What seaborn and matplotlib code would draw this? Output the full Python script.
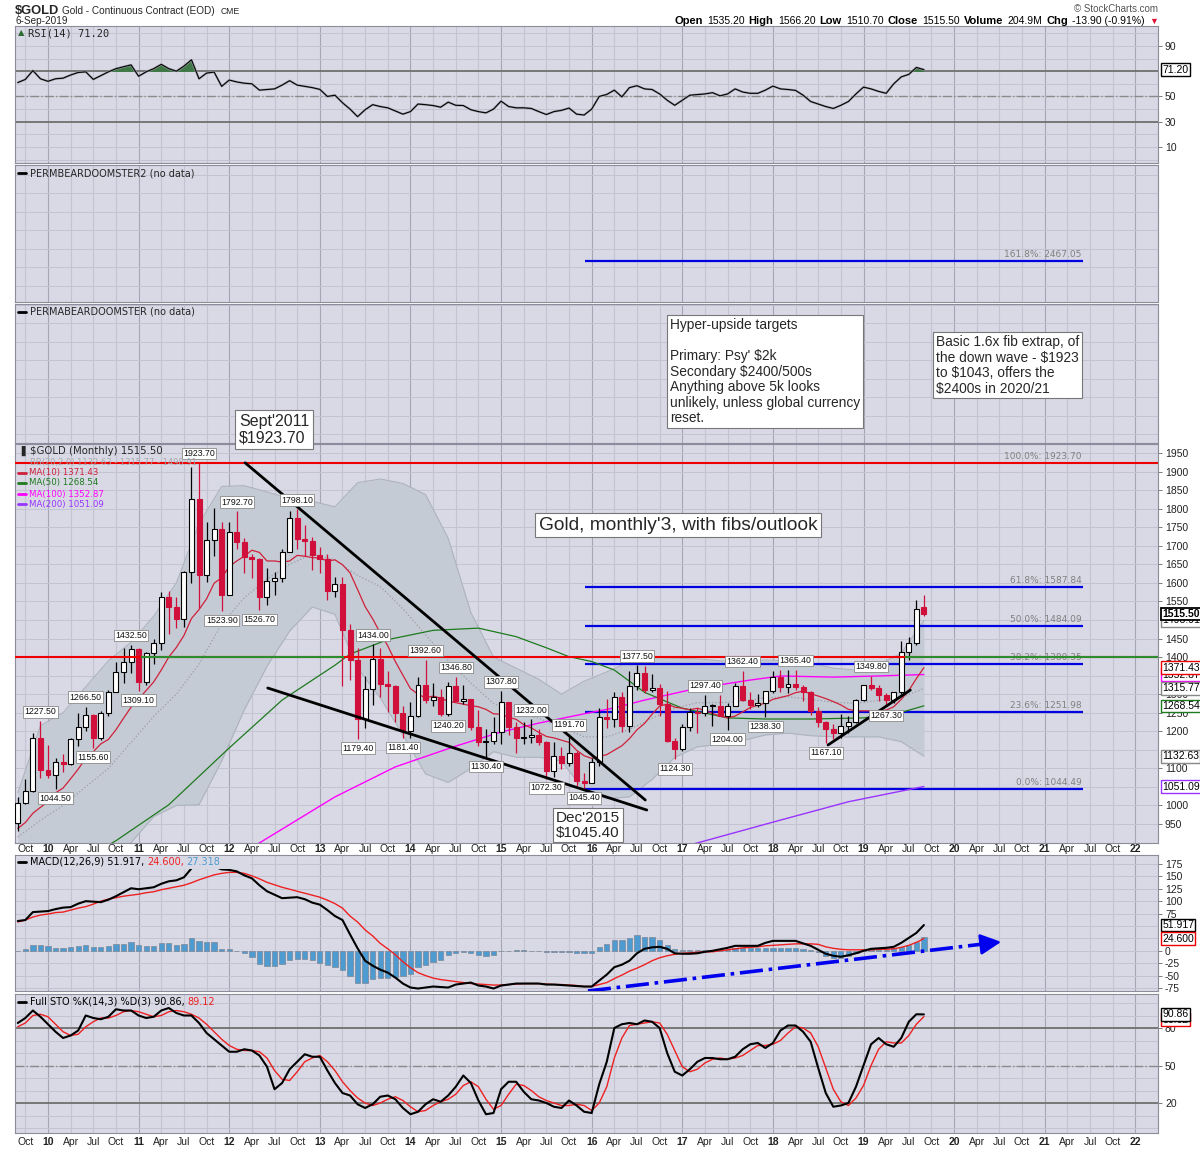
import matplotlib
matplotlib.use("Agg")
import matplotlib.pyplot as plt
from matplotlib.patches import Rectangle
import seaborn as sns
import numpy as np

sns.set_theme(style="white")
plt.rcParams['font.family'] = ['Liberation Sans', 'DejaVu Sans']
plt.rcParams['axes.unicode_minus'] = False

# ---------------- DATA (monthly, index 0 = Sep 2009 ... 120 = Sep 2019) ----------------
opens = [953, 1007, 1040, 1181, 1096, 1081, 1118, 1113, 1180, 1212,
         1245, 1181, 1248, 1307, 1359, 1386, 1421, 1333, 1410, 1439,
         1563, 1536, 1502, 1628, 1825, 1620, 1716, 1746, 1566, 1737,
         1711, 1669, 1664, 1561, 1604, 1614, 1684, 1776, 1719, 1713,
         1675, 1663, 1578, 1596, 1472, 1393, 1234, 1313, 1396, 1327,
         1323, 1250, 1202, 1240, 1326, 1284, 1291, 1246, 1322, 1282,
         1286, 1211, 1171, 1175, 1199, 1278, 1212, 1183, 1184, 1189,
         1172, 1094, 1133, 1114, 1142, 1065, 1061, 1116, 1238, 1234,
         1293, 1214, 1322, 1357, 1311, 1317, 1273, 1173, 1152, 1212,
         1252, 1249, 1268, 1269, 1242, 1269, 1322, 1284, 1271, 1276,
         1309, 1345, 1318, 1327, 1318, 1305, 1254, 1224, 1206, 1196,
         1215, 1226, 1283, 1325, 1316, 1298, 1285, 1306, 1413, 1437,
         1535.2]
highs = [1024, 1070, 1195, 1227.5, 1162, 1128, 1140, 1183, 1249, 1266.5,
         1246, 1254, 1310, 1388, 1424, 1432.5, 1424, 1413, 1448, 1575,
         1577, 1561, 1633, 1911, 1923.7, 1764, 1803, 1764, 1764, 1792.7,
         1720, 1678, 1667, 1640, 1628, 1692, 1795, 1798.1, 1755, 1724,
         1698, 1679, 1617, 1617, 1488, 1424, 1348, 1434, 1425, 1362,
         1325, 1267, 1280, 1345, 1392.6, 1331, 1315, 1332, 1346.8, 1325,
         1288, 1256, 1207, 1239, 1307.8, 1280, 1224, 1224, 1232, 1205,
         1175, 1170, 1157, 1191.7, 1147, 1088, 1128, 1263, 1287, 1306,
         1305, 1362, 1377.5, 1375, 1353, 1327, 1308, 1181, 1220, 1264,
         1263, 1297.4, 1274, 1297, 1276, 1331, 1362.4, 1306, 1300, 1309,
         1362, 1364, 1365, 1365.4, 1326, 1309, 1266, 1228, 1220, 1247,
         1241, 1287, 1326, 1349.8, 1325, 1302, 1307, 1442, 1453, 1555,
         1566.2]
lows = [931, 1003, 1035, 1075, 1073, 1044.5, 1089, 1110, 1160, 1201,
        1155.6, 1176, 1242, 1307, 1329, 1357, 1309.1, 1324, 1382, 1418,
        1462, 1478, 1480, 1600, 1532, 1603, 1672, 1523.9, 1566, 1690,
        1627, 1613, 1526.7, 1540, 1566, 1601, 1684, 1692, 1672, 1635,
        1627, 1555, 1562, 1321, 1339, 1179.4, 1208, 1271, 1292, 1251,
        1226, 1181.4, 1182, 1238, 1277, 1268, 1241, 1240.2, 1281, 1274,
        1204, 1161, 1130.4, 1167, 1167, 1191, 1142, 1167, 1169, 1162,
        1072.3, 1077, 1098, 1107, 1052, 1045.4, 1061, 1107, 1208, 1212,
        1199, 1199, 1310, 1304, 1305, 1241, 1171, 1124.3, 1146, 1202,
        1195, 1242, 1214, 1241, 1204, 1267, 1281, 1260, 1265, 1238.3,
        1302, 1307, 1303, 1311, 1282, 1245, 1211, 1167.1, 1180, 1183,
        1196, 1223, 1281, 1312, 1282, 1267.3, 1276, 1301, 1392, 1433,
        1510.7]
closes = [1007, 1040, 1181, 1096, 1081, 1118, 1113, 1180, 1212, 1245,
          1181, 1248, 1307, 1359, 1386, 1421, 1333, 1410, 1439, 1563,
          1536, 1502, 1628, 1825, 1620, 1716, 1746, 1566, 1737, 1711,
          1669, 1664, 1561, 1604, 1614, 1684, 1776, 1719, 1713, 1675,
          1663, 1578, 1596, 1472, 1393, 1234, 1313, 1396, 1327, 1323,
          1250, 1202, 1240, 1326, 1284, 1291, 1246, 1322, 1282, 1286,
          1211, 1171, 1175, 1199, 1278, 1212, 1183, 1184, 1189, 1172,
          1094, 1133, 1114, 1142, 1065, 1061, 1116, 1238, 1234, 1293,
          1214, 1322, 1357, 1311, 1317, 1273, 1173, 1152, 1212, 1252,
          1249, 1268, 1269, 1242, 1269, 1322, 1284, 1271, 1276, 1309,
          1345, 1318, 1327, 1318, 1305, 1254, 1224, 1206, 1196, 1215,
          1226, 1283, 1325, 1316, 1298, 1285, 1306, 1413, 1437, 1529,
          1515.5]

ma10 = [938, 954, 979, 995, 1010, 1034, 1047, 1072, 1098, 1127,
        1145, 1166, 1178, 1204, 1235, 1265, 1287, 1310, 1333, 1365,
        1400, 1426, 1458, 1504, 1528, 1557, 1599, 1614, 1644, 1659,
        1672, 1688, 1682, 1659, 1659, 1656, 1659, 1674, 1672, 1668,
        1667, 1659, 1662, 1649, 1627, 1582, 1536, 1503, 1465, 1430,
        1388, 1351, 1315, 1300, 1290, 1295, 1289, 1281, 1277, 1273,
        1269, 1266, 1259, 1247, 1246, 1238, 1232, 1218, 1209, 1197,
        1186, 1182, 1176, 1170, 1149, 1134, 1127, 1132, 1137, 1149,
        1161, 1180, 1204, 1221, 1246, 1268, 1273, 1265, 1262, 1258,
        1262, 1256, 1248, 1241, 1236, 1241, 1252, 1264, 1270, 1276,
        1286, 1291, 1296, 1304, 1308, 1301, 1295, 1288, 1280, 1271,
        1259, 1255, 1255, 1255, 1254, 1257, 1266, 1286, 1310, 1342,
        1371.43]
ma50_idx = [10, 13, 20, 28, 35, 42, 44, 49, 55, 61, 66, 70, 73, 76, 79, 83, 88, 94, 99, 105, 112, 116, 120]
ma50_val = [870, 905, 1002, 1155, 1284, 1378, 1408, 1447, 1472, 1478, 1455, 1425, 1401, 1388, 1365,
            1305, 1262, 1236, 1233, 1233, 1236, 1245, 1268.54]
ma100_idx = [30, 32, 42, 50, 58, 64, 69, 75, 79, 83, 90, 97, 101, 108, 114, 120]
ma100_val = [870, 899, 1023, 1104, 1160, 1198, 1222, 1247, 1263, 1284, 1316, 1338, 1349, 1346, 1349, 1352.87]
ma200_idx = [85, 90, 100, 110, 120]
ma200_val = [875, 899, 955, 1010, 1051.09]

bb_idx = [0, 3, 6, 9, 12, 15, 18, 21, 24, 27, 30, 33, 36, 39, 42, 45, 48, 51, 54, 57, 60,
          63, 66, 69, 72, 75, 78, 81, 84, 87, 90, 93, 96, 99, 102, 105, 108, 111, 114, 117, 120]
bb_upper = [1034, 1215, 1250, 1320, 1390, 1440, 1510, 1600, 1760, 1860, 1862, 1845, 1828, 1820, 1805,
            1870, 1880, 1868, 1838, 1720, 1520, 1400, 1370, 1340, 1300, 1335, 1360, 1387, 1398, 1397,
            1395, 1390, 1387, 1392, 1390, 1384, 1370, 1365, 1380, 1410, 1498.91]
bb_mid = [915, 960, 1000, 1050, 1100, 1170, 1240, 1300, 1381, 1490, 1560, 1610, 1650, 1678, 1662,
          1620, 1590, 1530, 1460, 1390, 1330, 1275, 1250, 1235, 1210, 1185, 1185, 1205, 1235, 1262,
          1277, 1277, 1281, 1290, 1293, 1286, 1278, 1275, 1283, 1290, 1315.77]
bb_lower = [796, 705, 750, 780, 810, 900, 970, 1000, 1002, 1120, 1258, 1375, 1470, 1535, 1515,
            1370, 1290, 1190, 1085, 1062, 1100, 1145, 1130, 1130, 1120, 1040, 1018, 1023, 1070, 1130,
            1158, 1165, 1175, 1190, 1195, 1188, 1185, 1185, 1185, 1172, 1132.63]

rsi = [61, 63.5, 70.5, 64, 62, 64, 64.5, 67, 69, 69.5,
       63.5, 66.5, 69.5, 72, 73.5, 75, 66, 69.5, 72, 75.4,
       72, 70, 74, 79, 64, 68.5, 69.3, 58, 63, 61.5,
       60.5, 60, 55, 55.5, 56, 59, 62.5, 59, 58, 57,
       55.6, 50, 51, 45, 40, 34, 39.5, 43.5, 42, 41,
       38.5, 36, 38, 44, 43.5, 42.8, 41.5, 45.5, 43, 42.8,
       39.5, 38, 37, 40, 46.3, 42, 41, 41, 40.5, 38,
       35.7, 38, 39, 40.8, 36, 35.3, 40, 50, 51.6, 55,
       49.7, 57, 58.5, 56, 55.5, 52, 47, 43, 47, 51,
       51.5, 52, 53, 50.5, 52, 56, 53.5, 52.5, 52.5, 55,
       58.2, 56, 55.5, 54.8, 51, 46, 44, 42, 40.5, 43,
       46, 52, 57.4, 56, 54, 52.5, 60, 65.5, 67.5, 73,
       71.2]
macd_line = [60, 62, 78, 79, 80, 84, 87, 88, 95, 100,
             99, 98, 103, 110, 118, 126, 124, 126, 128, 135,
             140, 142, 148, 166, 180, 178, 170, 164, 163, 160,
             152, 146, 132, 120, 113, 106, 107, 108, 104, 97,
             93, 82, 70, 62, 33, 5, -20, -30, -38, -44,
             -54, -66, -74, -76, -74, -72, -73, -74, -68, -66,
             -64, -70, -72, -76, -70, -68, -66, -66, -66, -66,
             -68, -68, -69, -70, -71, -72, -72, -60, -48, -33,
             -28, -20, -5, 4, 7, 8, 4, -5, -6, -6,
             -5, -2, 0, 3, 6, 10, 10, 10, 10, 16,
             20, 20, 20, 20, 15, 10, 2, -6, -10, -12,
             -9, -5, 0, 4, 5, 6, 8, 16, 26, 36,
             51.917]
macd_signal = [58, 62, 68, 72, 74, 77, 78, 82, 86, 89,
               94, 100, 104, 107, 110, 112, 114, 117, 119, 123,
               126, 129, 132, 137, 143, 148, 153, 156, 158, 158,
               156, 151, 145, 138, 133, 128, 124, 120, 116, 112,
               108, 102, 95, 86, 70, 58, 42, 30, 15, 4,
               -8, -22, -34, -44, -50, -55, -58, -60, -62, -64,
               -66, -67, -68, -69, -69, -68, -67, -66, -66, -66,
               -67, -68, -68, -69, -70, -72, -72, -68, -64, -56,
               -49, -41, -35, -28, -20, -14, -10, -7, -5, -4,
               -3, -2, -2, 0, 2, 4, 6, 7, 8, 10,
               11, 12, 13, 14, 14, 14, 13, 8, 5, 3,
               2, 2, 2, 2, 3, 3, 4, 7, 11, 17,
               24.6]
macd_hist = [0, 3, 12, 12, 10, 6, 6, 8, 10, 12,
             8, 8, 10, 14, 14, 18, 12, 10, 10, 16,
             16, 12, 14, 26, 20, 18, 18, 3, 3, 0,
             -5, -13, -27, -31, -31, -27, -19, -17, -17, -19,
             -24, -29, -32, -39, -51, -64, -64, -57, -55, -54,
             -52, -51, -47, -33, -29, -22, -19, -9, -5, -2,
             -5, -9, -11, -9, 0, 0, 1, 1, 0, -1,
             -3, -3, -2, -3, -4, -5, -4, 8, 13, 21,
             21, 26, 31, 28, 27, 21, 11, 3, 2, 2,
             2, 2, 2, 2, 2, 5, 6, 6, 6, 6,
             6, 6, 6, 6, 4, 1, -2, -11, -15, -15,
             -11, -5, 1, 1, 1, 1, 5, 8, 11, 18,
             27.318]
sto_k = [84, 88, 94, 89, 83, 77, 72, 74, 78, 90,
         88, 87, 89, 95, 94, 94, 90, 88, 89, 94,
         96, 92, 90, 90, 84, 76, 71, 66, 61, 61,
         63, 62, 58, 49, 31, 36, 47, 53, 59, 57,
         57, 46, 36, 28, 26, 19, 16, 19, 25, 26,
         23, 16, 11, 13, 19, 23, 21, 26, 33, 42,
         36, 22, 11, 12, 31, 37, 37, 29, 23, 22,
         20, 17, 16, 22, 18, 13, 12, 35, 53, 80,
         83, 84, 83, 86, 85, 80, 60, 45, 42, 47,
         53, 56, 56, 55, 55, 57, 63, 67, 68, 64,
         68, 78, 82, 82, 77, 69, 48, 28, 17, 18,
         20, 33, 50, 67, 72, 67, 65, 72, 85, 91,
         90.86]
sto_d = [81, 84, 90, 91, 89, 83, 77, 74, 75, 81,
         85, 88, 88, 90, 93, 94, 93, 91, 89, 90,
         93, 94, 93, 91, 88, 83, 77, 71, 66, 63,
         62, 62, 61, 56, 46, 39, 38, 45, 53, 56,
         58, 53, 46, 37, 30, 24, 20, 18, 20, 23,
         25, 22, 17, 13, 14, 18, 21, 23, 27, 34,
         37, 33, 23, 15, 18, 27, 35, 34, 30, 25,
         22, 20, 18, 18, 19, 18, 14, 20, 33, 56,
         72, 82, 83, 84, 85, 84, 75, 62, 49, 45,
         47, 52, 55, 56, 55, 56, 58, 62, 66, 66,
         67, 70, 76, 81, 80, 76, 65, 48, 31, 21,
         18, 24, 34, 50, 63, 69, 68, 68, 74, 83,
         89.12]

label_idx = [3, 5, 9, 10, 15, 16, 24, 27, 29, 32, 37, 45, 47, 51, 54, 57, 58, 62, 64, 68, 70,
             73, 75, 82, 87, 91, 94, 96, 99, 103, 107, 113, 115]
label_val = [1227.50, 1044.50, 1266.50, 1155.60, 1432.50, 1309.10, 1923.70, 1523.90, 1792.70,
             1526.70, 1798.10, 1179.40, 1434.00, 1181.40, 1392.60, 1240.20, 1346.80, 1130.40,
             1307.80, 1232.00, 1072.30, 1191.70, 1045.40, 1377.50, 1124.30, 1297.40, 1204.00,
             1362.40, 1238.30, 1365.40, 1167.10, 1349.80, 1267.30]
label_side = ['H', 'L', 'H', 'L', 'H', 'L', 'H', 'L', 'H', 'L', 'H', 'L', 'H', 'L', 'H', 'L', 'H',
              'L', 'H', 'H', 'L', 'H', 'L', 'H', 'L', 'H', 'L', 'H', 'L', 'H', 'L', 'H', 'L']

fib_pct = ['100.0%', '61.8%', '50.0%', '38.2%', '23.6%', '0.0%']
fib_val = [1923.70, 1587.84, 1484.09, 1380.35, 1251.98, 1044.49]
fib_ext_pct = '161.8%'
fib_ext_val = 2467.05
fib_span = [75.1, 141.1]

resist_level = 1400.0
green_seg_a = [16.3, 43.2]
green_seg_b = [117.5, 151.0]

trend_down_x = [30.1, 83.1]
trend_down_y = [1923.7, 1014.7]
trend_low_x = [33.1, 83.3]
trend_low_y = [1316.6, 987.7]
trend_up_x = [107.3, 118.2]
trend_up_y = [1163.0, 1311.0]
macd_arrow_x = [75.5, 128.6]
macd_arrow_y = [-81.0, 15.0]
macd_arrow_tip = [130.6, 18.6]

# tick labels hidden behind value tags in the reference are left out
price_ticks = [950, 1000, 1100, 1200, 1250, 1300, 1400, 1450, 1550,
               1600, 1650, 1700, 1750, 1800, 1850, 1900, 1950]
rsi_ticks = [10, 30, 50, 90]
macd_ticks = [-75, -50, -25, 0, 75, 100, 125, 150, 175]
sto_ticks = [20, 50, 80]

tick_pos = list(range(1, 149, 3))
tick_labels = ['Oct',
               '10', 'Apr', 'Jul', 'Oct', '11', 'Apr', 'Jul', 'Oct', '12', 'Apr', 'Jul', 'Oct',
               '13', 'Apr', 'Jul', 'Oct', '14', 'Apr', 'Jul', 'Oct', '15', 'Apr', 'Jul', 'Oct',
               '16', 'Apr', 'Jul', 'Oct', '17', 'Apr', 'Jul', 'Oct', '18', 'Apr', 'Jul', 'Oct',
               '19', 'Apr', 'Jul', 'Oct', '20', 'Apr', 'Jul', 'Oct', '21', 'Apr', 'Jul', 'Oct',
               '22']
grid_pos = list(range(1, 152, 3))

# ---------------- STYLE ----------------
BG = '#d9d9e6'
GRID = '#c3c3d1'
YGRID = '#a5a5b5'
CRED = '#d0103a'
W, H = 1200, 1152
X0, X1 = 15, 1158
XLIM = (-0.37, 151.0)

idx = np.arange(len(closes))
o = np.array(opens, float); hi = np.array(highs, float)
lo = np.array(lows, float); c = np.array(closes, float)

fig = plt.figure(figsize=(12, 11.52), dpi=100)
fig.patch.set_facecolor('white')


def panel(top, bottom, hgrid):
    ax = fig.add_axes([X0 / W, 1 - bottom / H, (X1 - X0) / W, (bottom - top) / H])
    ax.set_facecolor(BG)
    for s in ax.spines.values():
        s.set_color('#8c8c9c')
        s.set_linewidth(0.8)
    ax.yaxis.tick_right()
    ax.tick_params(axis='y', length=3, width=0.6, colors='#666666', labelsize=7.5, pad=2,
                   labelcolor='#222222')
    ax.tick_params(axis='x', length=0, labelbottom=False)
    for q in grid_pos:
        ax.axvline(q, color=YGRID if (q - 4) % 12 == 0 else GRID, lw=0.8, zorder=0.5)
    for g in hgrid:
        ax.axhline(g, color=GRID, lw=0.7, zorder=0.5)
    return ax


ax_rsi = panel(26, 163, range(0, 101, 10))
ax_p2 = panel(165, 302, range(2400, 2701, 50))
ax_p3 = panel(304, 443, range(2000, 2351, 50))
ax_px = panel(444, 843, range(900, 1951, 50))
ax_macd = panel(855, 991, range(-75, 176, 25))
ax_sto = panel(994, 1133, range(0, 101, 10))

# ---------------- RSI ----------------
r = np.array(rsi)
ax_rsi.axhline(70, color='#707070', lw=1.3, zorder=1)
ax_rsi.axhline(30, color='#707070', lw=1.3, zorder=1)
ax_rsi.axhline(50, color='#8a8a8a', lw=1.0, ls='-.', zorder=1)
ax_rsi.fill_between(idx, r, 70, where=r > 70, interpolate=True, color='#3f7a46', zorder=2)
sns.lineplot(x=idx, y=r, ax=ax_rsi, color='#a4a4b0', lw=1.6, zorder=2.5, legend=False)
sns.lineplot(x=idx, y=r, ax=ax_rsi, color='black', lw=0.8, zorder=3, legend=False)
ax_rsi.set_ylim(-2.7, 105.8)
ax_rsi.set_yticks(rsi_ticks)

# ---------------- empty panels ----------------
ax_p2.set_ylim(2357, 2726)
ax_p3.set_ylim(1977, 2352)
for a in (ax_p2, ax_p3):
    a.set_yticks([])
ax_p2.hlines(fib_ext_val, fib_span[0], fib_span[1], color='#0000e0', lw=1.6, zorder=2)
ax_p2.annotate(f'{fib_ext_pct}: {fib_ext_val:.2f}', xy=(fib_span[1] - 0.2, fib_ext_val),
               xytext=(0, 1.5), textcoords='offset points', ha='right', va='bottom',
               fontsize=6.5, color='#808080', family='DejaVu Sans')

# ---------------- PRICE ----------------
ax_px.fill_between(bb_idx, bb_lower, bb_upper, color='#c5cbd4', zorder=1, lw=0)
sns.lineplot(x=bb_idx, y=bb_upper, ax=ax_px, color='#adb4be', lw=0.8, zorder=1.2, legend=False)
sns.lineplot(x=bb_idx, y=bb_lower, ax=ax_px, color='#adb4be', lw=0.8, zorder=1.2, legend=False)
sns.lineplot(x=bb_idx, y=bb_mid, ax=ax_px, color='#9c9ca8', lw=0.9, ls=':', zorder=1.3, legend=False)

for v in fib_val[1:]:
    ax_px.hlines(v, fib_span[0], fib_span[1], color='#0000e0', lw=1.6, zorder=2)
for p, v in zip(fib_pct, fib_val):
    ax_px.annotate(f'{p}: {v:.2f}', xy=(fib_span[1] - 0.2, v), xytext=(0, 1.5),
                   textcoords='offset points', ha='right', va='bottom', fontsize=6.5,
                   color='#808080', family='DejaVu Sans', zorder=2)

sns.lineplot(x=ma200_idx, y=ma200_val, ax=ax_px, color='#9933ff', lw=1.0, zorder=3, legend=False)
sns.lineplot(x=ma100_idx, y=ma100_val, ax=ax_px, color='#ff00ff', lw=1.0, zorder=3, legend=False)
sns.lineplot(x=ma50_idx, y=ma50_val, ax=ax_px, color='#1d7a1d', lw=0.9, zorder=3, legend=False)
sns.lineplot(x=idx, y=ma10, ax=ax_px, color='#d0203a', lw=0.9, zorder=3.2, legend=False)

up = c >= o
body_lo = np.minimum(o, c)
body_h = np.maximum(np.abs(c - o), 1.5)
ax_px.vlines(idx[up], lo[up], hi[up], color='black', lw=0.9, zorder=4)
ax_px.vlines(idx[~up], lo[~up], hi[~up], color=CRED, lw=0.9, zorder=4)
ax_px.bar(idx[up], body_h[up], bottom=body_lo[up], width=0.66, color='white',
          edgecolor='black', lw=0.8, zorder=4.5)
ax_px.bar(idx[~up], body_h[~up], bottom=body_lo[~up], width=0.66, color=CRED,
          edgecolor=CRED, lw=0.8, zorder=4.5)

ax_px.axhline(fib_val[0], color='#ee0000', lw=1.5, zorder=5)
ax_px.axhline(resist_level, color='#ee0000', lw=1.5, zorder=5)
ax_px.hlines(resist_level, green_seg_a[0], green_seg_a[1], color='#2e8b2e', lw=1.5, zorder=5.1)
ax_px.hlines(resist_level, green_seg_b[0], green_seg_b[1], color='#2e8b2e', lw=1.5, zorder=5.1)

for tx, ty in ((trend_down_x, trend_down_y), (trend_low_x, trend_low_y), (trend_up_x, trend_up_y)):
    ax_px.plot(tx, ty, color='black', lw=2.0, zorder=6, solid_capstyle='round')

for i, v, s in zip(label_idx, label_val, label_side):
    ax_px.annotate(f'{v:.2f}', xy=(i, v), xytext=(0, 3.5 if s == 'H' else -3.5),
                   textcoords='offset points', ha='center', va='bottom' if s == 'H' else 'top',
                   fontsize=6.3, color='#111111', zorder=8, annotation_clip=False,
                   bbox=dict(boxstyle='square,pad=0.15', fc='white', ec='#8a8a8a', lw=0.6))

ax_px.set_ylim(898.8, 1974.3)
ax_px.set_yticks(price_ticks)

# ---------------- MACD ----------------
ax_macd.bar(idx, macd_hist, width=0.7, color='#4d9bd0', edgecolor='#7d8894', lw=0.5, zorder=2)
sns.lineplot(x=idx, y=macd_signal, ax=ax_macd, color='#ee2020', lw=1.0, zorder=3, legend=False)
sns.lineplot(x=idx, y=macd_line, ax=ax_macd, color='black', lw=1.5, zorder=3.2, legend=False)
ax_macd.plot(macd_arrow_x, macd_arrow_y, color='#0000ee', lw=2.6, ls='-.', zorder=5)
ax_macd.annotate('', xy=(macd_arrow_tip[0], macd_arrow_tip[1]),
                 xytext=(macd_arrow_x[1] - 1.5, macd_arrow_y[1] - 2.8),
                 arrowprops=dict(arrowstyle='-|>,head_width=0.45,head_length=0.9',
                                 color='#0000ee', lw=2.0, mutation_scale=14),
                 annotation_clip=False, zorder=5)
ax_macd.set_ylim(-81, 193)
ax_macd.set_yticks(macd_ticks)

# ---------------- STO ----------------
ax_sto.axhline(80, color='#707070', lw=1.3, zorder=1)
ax_sto.axhline(20, color='#707070', lw=1.3, zorder=1)
ax_sto.axhline(50, color='#8a8a8a', lw=1.0, ls='-.', zorder=1)
sns.lineplot(x=idx, y=sto_d, ax=ax_sto, color='#ee2020', lw=1.0, zorder=3, legend=False)
sns.lineplot(x=idx, y=sto_k, ax=ax_sto, color='black', lw=1.5, zorder=3.2, legend=False)
ax_sto.set_ylim(-4, 107.2)
ax_sto.set_yticks(sto_ticks)

# ---------------- x labels ----------------
for a in (ax_rsi, ax_p2, ax_p3, ax_px, ax_macd, ax_sto):
    a.set_xlim(*XLIM)
    a.set_xlabel('')
    a.set_ylabel('')
for a, pad in ((ax_px, 1.0), (ax_sto, 3.0)):
    a.set_xticks(tick_pos)
    a.set_xticklabels(tick_labels)
    a.tick_params(axis='x', length=0, labelbottom=True, labelsize=7.5, pad=pad, labelcolor='#222222')
    for lb in a.get_xticklabels():
        if lb.get_text().isdigit():
            lb.set_fontweight('bold')
for a in (ax_rsi, ax_p2, ax_p3, ax_macd):
    a.set_xticks(tick_pos)
    a.tick_params(axis='x', length=0, labelbottom=False)


# ---------------- value tags on right axis ----------------
def tag(ax, val, ec, bold=False, fmt='{:.2f}'):
    ax.annotate(fmt.format(val), xy=(1, val),
                xycoords=('axes fraction', 'data'), xytext=(3, 0), textcoords='offset points',
                ha='left', va='center', fontsize=7.5, color='black',
                fontweight='bold' if bold else 'normal', annotation_clip=False, zorder=20,
                bbox=dict(boxstyle='square,pad=0.12', fc='white', ec=ec, lw=1.0 if not bold else 1.3))


tag(ax_rsi, rsi[-1], 'black')
tag(ax_px, bb_upper[-1], '#888888')
tag(ax_px, closes[-1], 'black', bold=True)
tag(ax_px, ma100_val[-1], '#ff00ff')
tag(ax_px, ma10[-1], '#ee0000')
tag(ax_px, bb_mid[-1], '#888888')
tag(ax_px, ma50_val[-1], '#1d7a1d')
tag(ax_px, bb_lower[-1], '#888888')
tag(ax_px, ma200_val[-1], '#9933ff')
tag(ax_macd, macd_line[-1], 'black', fmt='{:.3f}')
tag(ax_macd, macd_signal[-1], '#ee0000', fmt='{:.3f}')
tag(ax_sto, sto_d[-1] - 2.5, '#ee0000')
tag(ax_sto, sto_k[-1], 'black')

# ---------------- overlay texts (pixel coordinates) ----------------
ov = fig.add_axes([0, 0, 1, 1])
ov.set_xlim(0, W)
ov.set_ylim(H, 0)
ov.axis('off')
ov.patch.set_visible(False)
ov.set_zorder(30)


def chain(x, y, parts, ha='left', gap=2.5, family=None):
    seq = parts if ha == 'left' else parts[::-1]
    kw = dict(va='center')
    if family:
        kw['family'] = family
    s, col, wt, sz = seq[0]
    t = ov.text(x, y, s, color=col, fontweight=wt, fontsize=sz, ha=ha, **kw)
    for s, col, wt, sz in seq[1:]:
        if ha == 'left':
            t = ov.annotate(s, xy=(1, 0.5), xycoords=t, xytext=(gap, 0), textcoords='offset points',
                            ha='left', color=col, fontweight=wt, fontsize=sz, **kw)
        else:
            t = ov.annotate(s, xy=(0, 0.5), xycoords=t, xytext=(-gap, 0), textcoords='offset points',
                            ha='right', color=col, fontweight=wt, fontsize=sz, **kw)
    return t


# header
ov.text(15, 14, '$GOLD', fontsize=9.3, fontweight='bold', va='baseline', ha='left')
ov.text(62, 14, 'Gold - Continuous Contract (EOD)', fontsize=7.2, va='baseline', ha='left')
ov.text(221, 14, 'CME', fontsize=6.2, va='baseline', ha='left')
ov.text(15, 20.5, '6-Sep-2019', fontsize=7.2, va='center', ha='left')
ov.text(1158, 8.5, '\u00a9 StockCharts.com', fontsize=7, color='#555555', va='center', ha='right')
B, N = 'bold', 'normal'
chain(1158, 21, [('Open', 'black', B, 8), ('1535.20', 'black', N, 7.5), ('High', 'black', B, 8),
                 ('1566.20', 'black', N, 7.5), ('Low', 'black', B, 8), ('1510.70', 'black', N, 7.5),
                 ('Close', 'black', B, 8), ('1515.50', 'black', N, 7.5), ('Volume', 'black', B, 8),
                 ('204.9M', 'black', N, 7.5), ('Chg', 'black', B, 8),
                 ('-13.90 (-0.91%)', 'black', N, 7.5), ('\u25bc', '#dd1133', N, 6.5)], ha='right', gap=3)

# panel titles
ov.text(18, 33, '\u25b2', color='#2f6b35', fontsize=6, va='center', ha='left', family='DejaVu Sans')
ov.text(28, 33, 'RSI(14) 71.20', fontsize=7.5, va='center', ha='left', family='DejaVu Sans Mono')
for y, s in ((173, 'PERMBEARDOOMSTER2 (no data)'), (312, 'PERMABEARDOOMSTER (no data)')):
    ov.plot([18, 26], [y, y], color='black', lw=2)
    ov.text(30, y, s, fontsize=7, va='center', ha='left', family='DejaVu Sans')

ov.text(17, 451, '\u2590', fontsize=7, va='center', ha='left', family='DejaVu Sans')
ov.text(30, 451, '$GOLD (Monthly) 1515.50', fontsize=7.3, va='center', ha='left', family='DejaVu Sans')
ov.text(30, 462, 'BB(20,2.0) 1132.63 - 1315.77 - 1498.91', fontsize=6, va='center', ha='left',
        family='DejaVu Sans', color='#a8a8b0')
for y, s, col in ((473, 'MA(10) 1371.43', '#d0203a'), (483, 'MA(50) 1268.54', '#1d7a1d'),
                  (494, 'MA(100) 1352.87', '#ff00ff'), (504, 'MA(200) 1051.09', '#9933ff')):
    ov.plot([18, 26], [y, y], color=col, lw=2)
    ov.text(29, y, s, fontsize=6.2, va='center', ha='left', family='DejaVu Sans', color=col)

ov.add_patch(Rectangle((16, 856), 234, 13, fc=BG, ec='none', zorder=1))
ov.plot([18, 26], [862, 862], color='black', lw=2, zorder=2)
chain(30, 862, [('MACD(12,26,9) 51.917,', 'black', N, 7), ('24.600,', '#ee2020', N, 7),
                ('27.318', '#4d9bd0', N, 7)], gap=2, family='DejaVu Sans')
ov.plot([18, 26], [1002, 1002], color='black', lw=2)
chain(30, 1002, [('Full STO %K(14,3) %D(3) 90.86,', 'black', N, 7), ('89.12', '#ee2020', N, 7)],
      gap=2, family='DejaVu Sans')

# annotation boxes
box = dict(boxstyle='square,pad=0.25', fc='white', ec='#777777', lw=0.8)
ov.text(239, 414, "Sept'2011\n$1923.70", fontsize=11.5, va='top', ha='left', linespacing=1.1, bbox=box)
ov.text(556, 811, "Dec'2015\n$1045.40", fontsize=11, va='top', ha='left', linespacing=1.05,
        bbox=dict(boxstyle='square,pad=0.18', fc='white', ec='#777777', lw=0.8))
ov.text(539, 525, "Gold, monthly'3, with fibs/outlook", fontsize=13.8, va='center', ha='left',
        bbox=dict(boxstyle='square,pad=0.2', fc='white', ec='#777777', lw=0.8))
ov.text(670, 318, "Hyper-upside targets\n\nPrimary: Psy' $2k\nSecondary $2400/500s\n"
        "Anything above 5k looks\nunlikely, unless global currency\nreset.",
        fontsize=9.9, va='top', ha='left', linespacing=1.14,
        bbox=dict(boxstyle='square,pad=0.2', fc='white', ec='#777777', lw=0.8))
ov.text(936, 335, "Basic 1.6x fib extrap, of\nthe down wave - $1923\nto $1043, offers the\n$2400s in 2020/21",
        fontsize=9.9, va='top', ha='left', linespacing=1.14,
        bbox=dict(boxstyle='square,pad=0.2', fc='white', ec='#777777', lw=0.8))

fig.savefig('out.png', dpi=100, facecolor='white')
